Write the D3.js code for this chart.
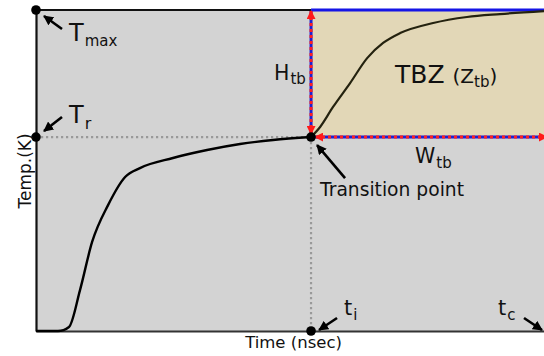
<!DOCTYPE html>
<html>
<head>
<meta charset="utf-8">
<script src="https://cdn.jsdelivr.net/npm/d3@7/dist/d3.min.js"></script>
<style>
  html, body { margin: 0; padding: 0; background: #fff; }
  svg { display: block; }
  text { font-family: "DejaVu Sans", Verdana, sans-serif; fill: #111; }
</style>
</head>
<body>
<svg id="chart" width="544" height="356"></svg>
<script>
// Heating curve before the transition point (time in units of t_i, temperature in units of T_r)
const heatTime = [0, 0.08, 0.12, 0.16, 0.204, 0.262, 0.324, 0.378, 0.498, 0.622, 0.742, 0.862, 1.0];
const heatTemp = [0, 0, 0.021, 0.211, 0.459, 0.649, 0.794, 0.840, 0.892, 0.933, 0.964, 0.985, 1.0];

// Curve inside the thermal boundary zone
const tbzTime = [1.0, 1.033, 1.08, 1.142, 1.204, 1.262, 1.324, 1.444, 1.567, 1.687, 1.847];
const tbzTemp = [1.0, 1.052, 1.155, 1.278, 1.407, 1.485, 1.536, 1.588, 1.619, 1.634, 1.649];

// Reference levels
const tI = 1.0;      // transition time
const tC = 1.847;    // cut-off time
const tR = 1.0;      // transition temperature
const tMax = 1.655;  // maximum temperature

const axisTitles = ["Time (nsec)", "Temp.(K)"];

const svg = d3.select("#chart");
const W = 544, H = 356;
const margin = { left: 36, right: 0, top: 10, bottom: 25 };

const x = d3.scaleLinear().domain([0, tC]).range([margin.left, W - margin.right]);
const y = d3.scaleLinear().domain([0, tMax]).range([H - margin.bottom, margin.top]);

const defs = svg.append("defs");
function arrowMarker(id, color, size) {
  defs.append("marker")
    .attr("id", id)
    .attr("viewBox", "0 0 10 10")
    .attr("refX", 9).attr("refY", 5)
    .attr("markerUnits", "userSpaceOnUse")
    .attr("markerWidth", size).attr("markerHeight", size)
    .attr("orient", "auto-start-reverse")
    .append("path")
    .attr("d", "M0,0 L10,5 L0,10 z")
    .attr("fill", color);
}
arrowMarker("blackArrow", "#000", 10);
arrowMarker("redArrow", "#ff1a1a", 9);

// Plot background
svg.append("rect")
  .attr("x", x(0)).attr("y", y(tMax))
  .attr("width", x(tC) - x(0)).attr("height", y(0) - y(tMax))
  .attr("fill", "#d3d3d3");

// Thermal boundary zone
svg.append("rect")
  .attr("x", x(tI)).attr("y", y(tMax))
  .attr("width", x(tC) - x(tI)).attr("height", y(tR) - y(tMax))
  .attr("fill", "#e2d7b7");

// Dotted reference lines to the transition point
svg.append("line")
  .attr("x1", x(0)).attr("x2", x(tI)).attr("y1", y(tR)).attr("y2", y(tR))
  .attr("stroke", "#999").attr("stroke-width", 2.2).attr("stroke-dasharray", "2.2,2.8");
svg.append("line")
  .attr("x1", x(tI)).attr("x2", x(tI)).attr("y1", y(tR)).attr("y2", y(0))
  .attr("stroke", "#999").attr("stroke-width", 2.2).attr("stroke-dasharray", "2.2,2.8");

// Top border: black over the heating region, blue over the TBZ
svg.append("line")
  .attr("x1", x(0)).attr("x2", x(tI)).attr("y1", y(tMax)).attr("y2", y(tMax))
  .attr("stroke", "#111").attr("stroke-width", 2);
svg.append("line")
  .attr("x1", x(tI)).attr("x2", x(tC)).attr("y1", y(tMax)).attr("y2", y(tMax))
  .attr("stroke", "#1515e6").attr("stroke-width", 3);

// Axes (no ticks)
svg.append("g")
  .attr("transform", `translate(0,${y(0)})`)
  .call(d3.axisBottom(x).tickValues([]).tickSizeOuter(0))
  .call(g => g.select(".domain").attr("stroke", "#333").attr("stroke-width", 2.2));
svg.append("g")
  .attr("transform", `translate(${x(0)},0)`)
  .call(d3.axisLeft(y).tickValues([]).tickSizeOuter(0))
  .call(g => g.select(".domain").attr("stroke", "#111").attr("stroke-width", 2.2));

// Curves
const heatPts = heatTime.map((t, i) => [t, heatTemp[i]]);
const tbzPts = tbzTime.map((t, i) => [t, tbzTemp[i]]);
const line = d3.line().x(d => x(d[0])).y(d => y(d[1])).curve(d3.curveMonotoneX);
svg.append("path").datum(heatPts).attr("d", line)
  .attr("fill", "none").attr("stroke", "#000").attr("stroke-width", 2.4);
svg.append("path").datum(tbzPts).attr("d", line)
  .attr("fill", "none").attr("stroke", "#24220f").attr("stroke-width", 2.2);

// Red/blue dimension lines for H_tb and W_tb
function dimLine(x1, y1, x2, y2, both) {
  svg.append("line")
    .attr("x1", x1).attr("y1", y1).attr("x2", x2).attr("y2", y2)
    .attr("stroke", "#2020d0").attr("stroke-width", 3);
  const l = svg.append("line")
    .attr("x1", x1).attr("y1", y1).attr("x2", x2).attr("y2", y2)
    .attr("stroke", "#ff2020").attr("stroke-width", 3).attr("stroke-dasharray", "3,3")
    .attr("marker-end", "url(#redArrow)");
  if (both) l.attr("marker-start", "url(#redArrow)");
}
dimLine(x(tI), y(tR) - 3, x(tI), y(tMax) + 1, true);
dimLine(x(tC) + 3, y(tR), x(tI) + 4, y(tR), true);

// Key points
const keyPts = [[0, tMax], [0, tR], [tI, tR], [tI, 0]];
svg.selectAll("circle.key").data(keyPts).join("circle")
  .attr("class", "key")
  .attr("cx", d => x(d[0])).attr("cy", d => y(d[1])).attr("r", 4.8)
  .attr("fill", "#000");

// Pointer arrows
function pointer(x1, y1, x2, y2) {
  svg.append("line")
    .attr("x1", x1).attr("y1", y1).attr("x2", x2).attr("y2", y2)
    .attr("stroke", "#000").attr("stroke-width", 2.6)
    .attr("marker-end", "url(#blackArrow)");
}
pointer(x(0) + 26, y(tMax) + 19, x(0) + 8, y(tMax) + 6);
pointer(x(0) + 26, y(tR) - 20, x(0) + 8, y(tR) - 6);
pointer(x(tI) + 34, y(tR) + 41, x(tI) + 6, y(tR) + 8);
pointer(x(tI) + 26, y(0) - 13, x(tI) + 8, y(0) - 1);
pointer(x(tC) - 20, y(0) - 13, x(tC) - 2, y(0) - 1);

// Labels with subscripts
function subLabel(px, py, main, sub, size, subSize, subDy) {
  const t = svg.append("text").attr("x", px).attr("y", py).attr("font-size", size);
  t.append("tspan").text(main);
  t.append("tspan").attr("font-size", subSize).attr("dy", subDy).attr("dx", 1).text(sub);
  return t;
}
subLabel(x(0) + 33, y(tMax) + 31, "T", "max", 24, 15, 5);
subLabel(x(0) + 33, y(tR) - 14, "T", "r", 24, 16, 6);
subLabel(x(tI) - 37, y(tR) - 57, "H", "tb", 20.5, 15, 4);
subLabel(x(tI) + 104, y(tR) + 26, "W", "tb", 20.5, 15, 5);
subLabel(x(tI) + 33, y(0) - 16, "t", "i", 21, 15, 5);
subLabel(x(tC) - 46, y(0) - 16, "t", "c", 21, 15, 5);

const tbz = svg.append("text").attr("x", x(tI) + 84).attr("y", y(tR) - 54).attr("font-size", 25);
tbz.append("tspan").text("TBZ ");
tbz.append("tspan").attr("font-size", 20).text("(");
tbz.append("tspan").attr("font-size", 20).text("Z");
tbz.append("tspan").attr("font-size", 15).attr("dy", 4).text("tb");
tbz.append("tspan").attr("font-size", 20).attr("dy", -4).text(")");

svg.append("text")
  .attr("x", x(tI) + 9).attr("y", y(tR) + 59)
  .attr("font-size", 18.7)
  .text("Transition point");

// Axis titles
svg.append("text")
  .attr("x", (x(0) + x(tI)) / 2 + 120).attr("y", H - 8)
  .attr("text-anchor", "middle").attr("font-size", 16.5)
  .text(axisTitles[0]);
svg.append("text")
  .attr("transform", `translate(31,171) rotate(-90)`)
  .attr("text-anchor", "middle").attr("font-size", 17)
  .text(axisTitles[1]);
</script>
</body>
</html>
